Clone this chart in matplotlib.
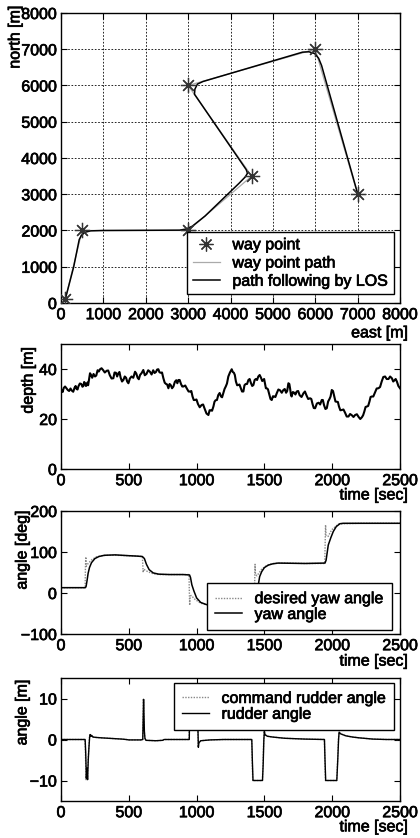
import matplotlib
matplotlib.use("Agg")
import matplotlib.pyplot as plt
from matplotlib.lines import Line2D
from matplotlib.text import Text
import matplotlib.patheffects as pe

plt.rcParams['font.family'] = ['Liberation Sans', 'DejaVu Sans']
plt.rcParams['font.size'] = 11.5

# ---------------- data ----------------
wp_east = [100, 500, 3000, 4500, 3000, 6000, 7000]
wp_north = [100, 2000, 2000, 3500, 6000, 7000, 3000]

los_east = [100, 300, 430, 480, 560, 700, 1000, 2800, 2950, 3100, 3400, 4200,
            4350, 4400, 4370, 3150, 3160, 3220, 3350, 5700, 5850, 5990, 6080,
            6150, 7000]
los_north = [100, 1000, 1750, 1860, 1950, 1990, 2000, 2010, 2040, 2120, 2400,
             3300, 3480, 3580, 3680, 5760, 5900, 6040, 6110, 6920, 6930, 6880,
             6750, 6550, 3020]

# depth: main readings
depth_t_a = [0, 5, 20, 40, 60, 79, 100, 115, 128, 150, 165, 177, 190, 200, 214, 230,
             251, 270, 288, 310, 337, 360, 386, 405, 423, 440, 460, 480, 497, 520,
             546, 565, 583, 607, 630, 656, 680, 700, 718, 735, 755, 775, 792, 810,
             829, 850, 866, 885, 903, 930, 953, 970, 988, 1010, 1037, 1060, 1087,
             1105, 1124, 1140, 1160, 1180, 1197, 1215, 1234, 1259, 1275, 1290,
             1308, 1325, 1345, 1362, 1382, 1400, 1419, 1437, 1455, 1475, 1492,
             1505, 1517, 1535, 1554, 1572, 1591, 1615, 1640, 1660, 1677, 1690,
             1701, 1720, 1738, 1760, 1788, 1810, 1837, 1855, 1874, 1900, 1923,
             1940, 1960, 1980, 1997, 2015, 2034, 2050, 2071, 2095, 2120, 2145,
             2169, 2195, 2219, 2237, 2256, 2275, 2292, 2315, 2341, 2365, 2390,
             2415, 2440, 2460, 2477, 2500]
depth_v_a = [31.5, 31.6, 32.4, 32.3, 31.2, 31.4, 32.5, 32.0, 33.0, 34.0, 33.2, 34.3,
             33.6, 33.5, 38.3, 36.5, 37.0, 39.5, 39.9, 39.6, 39.3, 37.5, 36.3,
             38.5, 38.3, 36.5, 35.6, 36.5, 34.3, 37.0, 38.9, 36.5, 37.6, 39.6,
             38.0, 38.9, 39.5, 38.8, 39.9, 38.5, 36.3, 34.0, 32.3, 33.5, 33.0,
             35.5, 35.6, 34.0, 33.0, 32.0, 31.0, 29.0, 27.6, 26.0, 25.6, 24.0,
             21.6, 23.5, 25.0, 27.5, 29.6, 29.0, 30.3, 33.0, 37.0, 39.9, 38.5,
             35.0, 33.6, 32.5, 31.0, 34.0, 35.6, 34.5, 33.6, 36.0, 37.0, 36.5,
             35.6, 34.0, 32.3, 30.0, 27.6, 29.0, 30.3, 31.5, 31.6, 30.5, 34.3,
             32.0, 29.0, 30.5, 31.0, 29.5, 30.3, 29.5, 28.3, 26.0, 24.3, 26.5,
             27.6, 25.5, 24.3, 28.0, 31.6, 29.0, 26.9, 25.0, 23.6, 22.5, 21.0,
             21.5, 21.6, 20.8, 20.7, 23.0, 25.0, 27.0, 29.0, 30.5, 32.3, 35.0,
             37.0, 36.0, 36.3, 35.5, 35.0, 32.3]
# depth: in-between readings (small wiggles)
depth_t_b = [12, 30, 50, 70, 90, 108, 122, 139, 158, 171, 184, 195, 207, 222, 240,
             260, 279, 299, 323, 348, 373, 395, 414, 431, 450, 470, 488, 508, 533,
             555, 574, 595, 618, 643, 668, 690, 709, 726, 745, 765, 783, 801, 819,
             840, 858, 875, 894, 916, 941, 961, 979, 999, 1023, 1048, 1073, 1096,
             1114, 1132, 1150, 1170, 1188, 1206, 1224, 1246, 1267, 1282, 1299,
             1316, 1335, 1353, 1372, 1391, 1410, 1428, 1446, 1465, 1484, 1498,
             1511, 1526, 1545, 1563, 1581, 1603, 1628, 1650, 1668, 1684, 1696,
             1710, 1729, 1749, 1774, 1799, 1823, 1846, 1864, 1887, 1911, 1931,
             1950, 1970, 1988, 2006, 2024, 2042, 2060, 2083, 2107, 2132, 2157,
             2182, 2207, 2228, 2246, 2265, 2283, 2303, 2328, 2353, 2377, 2402,
             2427, 2450, 2468, 2488]
depth_v_b = [30.8, 33.0, 31.6, 32.2, 30.9, 33.2, 31.8, 34.2, 32.9, 34.8, 33.2, 34.6,
             36.0, 37.6, 38.0, 37.4, 39.0, 40.3, 38.6, 39.4, 36.2, 38.6, 37.0,
             38.8, 35.0, 37.0, 35.0, 36.2, 36.5, 38.2, 35.9, 38.4, 37.5, 39.5,
             37.8, 38.4, 39.8, 38.7, 38.6, 34.5, 33.8, 34.0, 32.3, 34.9, 34.3,
             35.6, 33.0, 33.4, 31.0, 31.2, 27.6, 27.8, 24.7, 25.8, 22.2, 23.5,
             23.3, 26.9, 27.6, 30.4, 28.7, 32.0, 34.2, 38.6, 38.8, 37.6, 33.5,
             33.8, 31.0, 33.5, 34.0, 36.0, 33.2, 35.6, 35.6, 37.6, 35.2, 36.0,
             32.3, 31.9, 28.0, 29.1, 28.8, 31.8, 30.5, 32.0, 31.2, 34.0, 29.6,
             30.8, 29.8, 31.2, 28.8, 31.0, 28.0, 28.0, 24.4, 26.2, 25.8, 27.6,
             24.0, 27.0, 29.0, 31.2, 27.0, 26.8, 23.5, 23.8, 21.0, 22.0, 20.8,
             21.9, 20.0, 21.5, 24.8, 25.2, 28.8, 29.0, 32.2, 32.8, 36.8, 36.0,
             37.0, 35.0, 36.0, 33.2]

yawd_t = [0, 178, 180, 183, 186, 200, 230, 260, 300, 350, 400, 500, 560, 600, 603,
          606, 609, 615, 640, 680, 720, 800, 900, 944, 946, 949, 952, 960, 990,
          1030, 1080, 1150, 1300, 1425, 1428, 1431, 1434, 1445, 1480, 1520, 1560,
          1650, 1800, 1945, 1948, 1951, 1955, 1970, 1996, 2045, 2080, 2200, 2500]
yawd_v = [13, 13, 60, 88, 65, 72, 82, 88, 91, 92, 92, 91, 90, 89, 70, 50, 58, 57,
          52, 47, 45, 45, 45, 45, 10, -30, -8, -6, -16, -25, -29, -30, -31, -31,
          20, 70, 45, 42, 58, 68, 72, 73, 72, 72, 120, 166, 140, 138, 154, 168,
          169, 170, 170]

yaw_t = [0, 180, 185, 192, 200, 210, 225, 250, 280, 320, 400, 500, 560, 600, 615,
         630, 650, 680, 720, 800, 900, 948, 955, 965, 980, 1000, 1030, 1070, 1120,
         1300, 1430, 1436, 1455, 1465, 1480, 1500, 1529, 1560, 1600, 1800, 1947,
         1955, 1971, 1990, 2008, 2030, 2057, 2080, 2500]
yaw_v = [13, 13, 16, 30, 48, 62, 74, 84, 89, 92, 93, 91, 90, 89, 84, 70, 57, 49,
         46, 45, 45, 44, 38, 20, 5, -12, -23, -28, -30, -31, -31, 10, 20, 40, 52,
         62, 68, 71, 73, 72, 73, 80, 117, 135, 150, 162, 169, 170, 170]

cmd_t = [0, 177, 180, 185, 190, 195, 200, 205, 210, 214, 220, 225, 235, 260, 300,
         400, 450, 480, 500, 590, 602, 605, 608, 611, 614, 618, 625, 700, 750,
         760, 945, 948, 952, 1004, 1008, 1012, 1016, 1030, 1100, 1200, 1406,
         1410, 1414, 1485, 1490, 1495, 1499, 1503, 1520, 1560, 1650, 1800, 1942,
         1946, 1950, 2033, 2040, 2046, 2050, 2060, 2100, 2150, 2200, 2300, 2400,
         2500]
cmd_v = [0, 0, -3, -9.8, -7, -10, -5, -2, 0.5, 1.2, 0.8, 1.0, 0.6, 0.5, 0.4, 0.2,
         0.1, 0.0, -0.1, -0.1, 0.0, 5, 10, 6, 2, 0.3, -0.2, -0.3, -0.2, 0.0, 0.0,
         10, 10, 10, 4, -1.9, -0.8, -0.3, -0.1, 0.0, 0.0, -5, -10, -10, -6, 0,
         2.0, 1.2, 0.8, 0.6, 0.3, 0.1, 0.0, -5, -10, -10, -5, 0, 1.8, 1.4, 0.9,
         0.6, 0.4, 0.1, 0.0, 0.0]

rud_t = [0, 178, 182, 187, 192, 196, 201, 206, 211, 215, 221, 226, 236, 260, 300,
         400, 450, 480, 500, 590, 603, 606, 609, 612, 615, 619, 626, 700, 750,
         760, 946, 950, 954, 1005, 1009, 1013, 1017, 1031, 1100, 1200, 1407,
         1411, 1416, 1486, 1491, 1496, 1500, 1504, 1521, 1561, 1650, 1800, 1943,
         1947, 1952, 2034, 2041, 2047, 2051, 2061, 2100, 2150, 2200, 2300, 2400,
         2500]
rud_v = [0, 0, -3, -9.5, -7, -9.8, -5, -2, 0.5, 1.2, 0.8, 1.0, 0.6, 0.5, 0.4, 0.2,
         0.1, 0.0, -0.1, -0.1, 0.0, 5, 9.8, 6, 2, 0.3, -0.2, -0.3, -0.2, 0.0, 0.0,
         10, 10, 10, 4, -1.9, -0.8, -0.3, -0.1, 0.0, 0.0, -5, -10, -10, -6, 0,
         2.0, 1.2, 0.8, 0.6, 0.3, 0.1, 0.0, -5, -10, -10, -5, 0, 1.8, 1.4, 0.9,
         0.6, 0.4, 0.1, 0.0, 0.0]

# merge depth readings in time order
depth_pairs = sorted(zip(depth_t_a + depth_t_b, depth_v_a + depth_v_b))
depth_t = [p[0] for p in depth_pairs]
depth_v = [p[1] for p in depth_pairs]

# ---------------- figure ----------------
fig = plt.figure(figsize=(4.2, 8.38), dpi=100)
W, H = 420.0, 838.0
FS = 11.5


def add_ax(left, top, right, bottom):
    return fig.add_axes([left / W, 1 - bottom / H, (right - left) / W, (bottom - top) / H])


def style(ax):
    ax.tick_params(direction='in', top=True, right=True, length=4, width=0.8,
                   labelsize=FS, pad=3)
    for s in ax.spines.values():
        s.set_linewidth(1.0)
        s.set_color('black')


def legend(ax, handles, labels, loc, anchor, spacing, bpad):
    lg = ax.legend(handles, labels, loc=loc, bbox_to_anchor=anchor, fontsize=FS,
                   frameon=True, fancybox=False, framealpha=1, edgecolor='black',
                   handlelength=1.7, handletextpad=0.8, borderpad=bpad,
                   labelspacing=spacing, borderaxespad=0)
    lg.get_frame().set_linewidth(1.0)
    return lg


def xlab(ax, text, y):
    ax.set_xlabel(text, fontsize=FS)
    ax.xaxis.set_label_coords(1.024, y)
    ax.xaxis.label.set_ha('right')
    ax.xaxis.label.set_va('center')


def ylab(ax, text, x, y):
    ax.set_ylabel(text, fontsize=FS)
    ax.yaxis.set_label_coords(x, y)
    ax.yaxis.label.set_va('center')
    ax.yaxis.label.set_ha('center')


# --- top: trajectory ---
ax1 = add_ax(61, 13, 400, 303)
ax1.plot(wp_east, wp_north, color='#aaaaaa', lw=0.9, zorder=2)
ax1.plot(los_east, los_north, color='black', lw=1.1, zorder=3)
ax1.plot(wp_east, wp_north, linestyle='none', marker=(8, 2, 0), markersize=11,
         markeredgewidth=0.9, color='#333333', zorder=4)
ax1.set_xlim(0, 8000)
ax1.set_ylim(0, 8000)
ax1.set_xticks(range(0, 8001, 1000))
ax1.set_yticks(range(0, 8001, 1000))
ax1.grid(True, linestyle=(0, (2, 2)), color='black', linewidth=0.6)
style(ax1)
xlab(ax1, 'east [m]', -0.103)
ylab(ax1, 'north [m]', -0.136, 0.917)
h1 = [Line2D([], [], linestyle='none', marker=(8, 2, 0), markersize=10,
             markeredgewidth=0.9, color='#333333'),
      Line2D([], [], color='#aaaaaa', lw=0.9),
      Line2D([], [], color='black', lw=1.1)]
legend(ax1, h1, ['way point', 'way point path', 'path following by LOS'],
       'lower right', (0.982, 0.03), 0.2, 0.35)

# --- depth ---
ax2 = add_ax(61, 344, 400, 469)
ax2.plot(depth_t, depth_v, color='black', lw=1.5)
ax2.set_xlim(0, 2500)
ax2.set_ylim(0, 50)
ax2.set_xticks(range(0, 2501, 500))
ax2.set_yticks([0, 20, 40])
style(ax2)
xlab(ax2, 'time [sec]', -0.208)
ylab(ax2, 'depth [m]', -0.097, 0.71)

# --- yaw ---
ax3 = add_ax(61, 511, 400, 634)
ax3.plot(yawd_t, yawd_v, color='#888888', lw=1.0, linestyle=(0, (1, 1)))
ax3.plot(yaw_t, yaw_v, color='black', lw=1.1)
ax3.set_xlim(0, 2500)
ax3.set_ylim(-100, 200)
ax3.set_xticks(range(0, 2501, 500))
ax3.set_yticks([-100, 0, 100, 200])
style(ax3)
xlab(ax3, 'time [sec]', -0.22)
ylab(ax3, 'angle [deg]', -0.115, 0.683)
h3 = [Line2D([], [], color='#888888', lw=1.0, linestyle=(0, (1, 1))),
      Line2D([], [], color='black', lw=1.1)]
legend(ax3, h3, ['desired yaw angle', 'yaw angle'], 'lower right', (0.975, 0.033),
       0.05, 0.5)

# --- rudder ---
ax4 = add_ax(61, 678, 400, 801)
ax4.plot(cmd_t, cmd_v, color='#888888', lw=1.0, linestyle=(0, (1, 1)))
ax4.plot(rud_t, rud_v, color='black', lw=1.0)
ax4.set_xlim(0, 2500)
ax4.set_ylim(-15, 15)
ax4.set_xticks(range(0, 2501, 500))
ax4.set_yticks([-10, 0, 10])
style(ax4)
xlab(ax4, 'time [sec]', -0.21)
ylab(ax4, 'angle [m]', -0.115, 0.72)
h4 = [Line2D([], [], color='#888888', lw=1.0, linestyle=(0, (1, 1))),
      Line2D([], [], color='black', lw=1.0)]
legend(ax4, h4, ['command rudder angle', 'rudder angle'], 'upper right', (0.982, 0.96),
       0.05, 0.5)

# slightly heavier text, like the scanned original
for t in fig.findobj(Text):
    t.set_path_effects([pe.withStroke(linewidth=0.5, foreground='black')])

fig.savefig('out.png', dpi=100)
